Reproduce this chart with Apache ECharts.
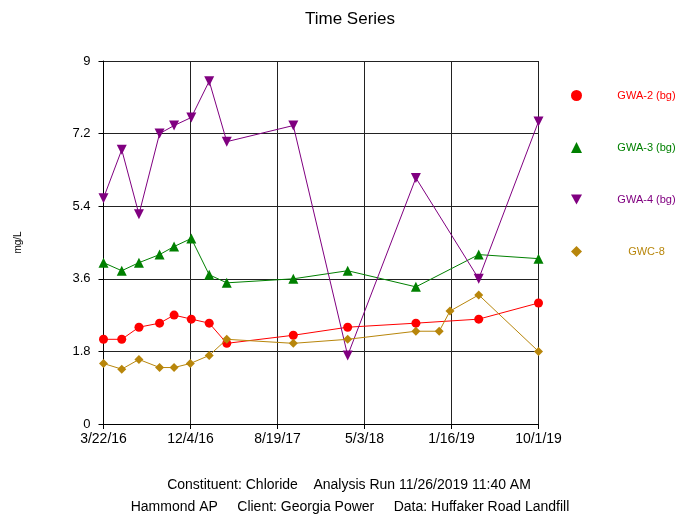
<!DOCTYPE html>
<html>
<head>
<meta charset="utf-8">
<title>Time Series</title>
<script src="https://cdn.jsdelivr.net/npm/echarts@6/dist/echarts.min.js"></script>
<style>
  html, body { margin: 0; padding: 0; background: #fff; }
  #chart { width: 679px; height: 517px; }
</style>
</head>
<body>
<div id="chart"></div>
<script>
// Sampling dates (shared by the three background wells)
const sampleDates = [
  '2016-03-22', '2016-05-15', '2016-07-05', '2016-09-04', '2016-10-17',
  '2016-12-07', '2017-01-29', '2017-03-22', '2017-10-05', '2018-03-15',
  '2018-10-03', '2019-04-07', '2019-10-01'
];
// GWC-8 has two extra samples in winter 2018/19
const gwc8Dates = [
  '2016-03-22', '2016-05-15', '2016-07-05', '2016-09-04', '2016-10-17',
  '2016-12-04', '2017-01-29', '2017-03-22', '2017-10-05', '2018-03-15',
  '2018-10-03', '2018-12-11', '2019-01-12', '2019-04-07', '2019-10-01'
];

// Chloride, mg/L
const gwa2 = [2.1, 2.1, 2.4, 2.5, 2.7, 2.6, 2.5, 2.0, 2.2, 2.4, 2.5, 2.6, 3.0];
const gwa3 = [4.0, 3.8, 4.0, 4.2, 4.4, 4.6, 3.7, 3.5, 3.6, 3.8, 3.4, 4.2, 4.1];
const gwa4 = [5.6, 6.8, 5.2, 7.2, 7.4, 7.6, 8.5, 7.0, 7.4, 1.7, 6.1, 3.6, 7.5];
const gwc8 = [1.5, 1.36, 1.6, 1.4, 1.4, 1.5, 1.7, 2.1, 2.0, 2.1, 2.3, 2.3, 2.8, 3.2, 1.8];

const seriesNames = ['GWA-2 (bg)', 'GWA-3 (bg)', 'GWA-4 (bg)', 'GWC-8'];
const seriesColors = ['#ff0000', '#008000', '#800080', '#b8860b'];

// Axis settings
const startDate = '2016-03-22';
const endDate = '2019-10-01';
const yTicks = [0, 1.8, 3.6, 5.4, 7.2, 9];

const DAY = 86400000;
const t0 = Date.parse(startDate + 'T00:00:00Z');
const spanDays = (Date.parse(endDate + 'T00:00:00Z') - t0) / DAY;
const toDays = d => (Date.parse(d + 'T00:00:00Z') - t0) / DAY;
const pairs = (dates, vals) => dates.map((d, i) => [toDays(d), vals[i]]);

function dayLabel(v) {
  const dt = new Date(t0 + Math.round(v * 1000) / 1000 * DAY);
  return (dt.getUTCMonth() + 1) + '/' + dt.getUTCDate() + '/' + String(dt.getUTCFullYear()).slice(2);
}

const downTri = 'path://M0,0 L10,0 L5,9 Z';
const symbols = ['circle', 'triangle', downTri, 'diamond'];
const symbolSizes = [9, 10, 10, 9];
const seriesData = [
  pairs(sampleDates, gwa2),
  pairs(sampleDates, gwa3),
  pairs(sampleDates, gwa4),
  pairs(gwc8Dates, gwc8)
];

const font = 'Liberation Sans, Arial, sans-serif';
const chart = echarts.init(document.getElementById('chart'), null, { renderer: 'canvas' });

chart.setOption({
  animation: false,
  backgroundColor: '#fff',
  textStyle: { fontFamily: font },
  title: {
    text: 'Time Series',
    left: 300,
    top: 6,
    textStyle: { fontFamily: font, fontSize: 17, fontWeight: 'normal', color: '#000' }
  },
  grid: { left: 103.5, right: 140.5, top: 61, bottom: 93, containLabel: false },
  legend: {
    orient: 'vertical',
    left: 566,
    top: 85,
    itemWidth: 11,
    itemHeight: 11,
    itemGap: 41,
    selectedMode: false,
    formatter: '{n|{name}}',
    textStyle: {
      fontFamily: font,
      fontSize: 11,
      rich: { n: { width: 119, align: 'center', fontSize: 11, fontFamily: font } }
    },
    data: seriesNames.map((n, i) => ({
      name: n,
      icon: symbols[i],
      itemStyle: { color: seriesColors[i] },
      textStyle: { color: seriesColors[i] }
    }))
  },
  xAxis: {
    type: 'value',
    min: 0,
    max: spanDays,
    interval: spanDays / 5,
    axisLine: { show: true, onZero: false, lineStyle: { color: '#000', width: 1 } },
    axisTick: { show: true, length: 5, lineStyle: { color: '#000' } },
    axisLabel: {
      margin: 8, color: '#000', fontSize: 14, fontFamily: font,
      showMinLabel: true, showMaxLabel: true,
      formatter: dayLabel
    },
    splitLine: { show: true, lineStyle: { color: '#222', width: 1 } }
  },
  yAxis: {
    type: 'value',
    min: yTicks[0],
    max: yTicks[yTicks.length - 1],
    interval: yTicks[1] - yTicks[0],
    name: 'mg/L',
    nameLocation: 'middle',
    nameRotate: 90,
    nameGap: 80,
    nameTextStyle: { fontFamily: font, fontSize: 10, color: '#000' },
    axisLine: { show: true, lineStyle: { color: '#000', width: 1 } },
    axisTick: { show: true, length: 5, lineStyle: { color: '#000' } },
    axisLabel: {
      margin: 13, color: '#000', fontSize: 13, fontFamily: font,
      formatter: v => String(+v.toFixed(1))
    },
    splitLine: { show: true, lineStyle: { color: '#222', width: 1 } }
  },
  series: seriesNames.map((n, i) => ({
    name: n,
    type: 'line',
    data: seriesData[i],
    symbol: symbols[i],
    symbolSize: symbolSizes[i],
    showAllSymbol: true,
    clip: false,
    color: seriesColors[i],
    lineStyle: { width: 1, color: seriesColors[i] },
    itemStyle: { color: seriesColors[i] },
    z: 3 + i
  })),
  graphic: [
    {
      type: 'text', x: 349, y: 485,
      style: {
        text: 'Constituent: Chloride    Analysis Run 11/26/2019 11:40 AM',
        font: '14px ' + font, fill: '#000', align: 'center', verticalAlign: 'middle'
      }
    },
    {
      type: 'text', x: 350, y: 507,
      style: {
        text: 'Hammond AP     Client: Georgia Power     Data: Huffaker Road Landfill',
        font: '14px ' + font, fill: '#000', align: 'center', verticalAlign: 'middle'
      }
    }
  ]
});
</script>
</body>
</html>
